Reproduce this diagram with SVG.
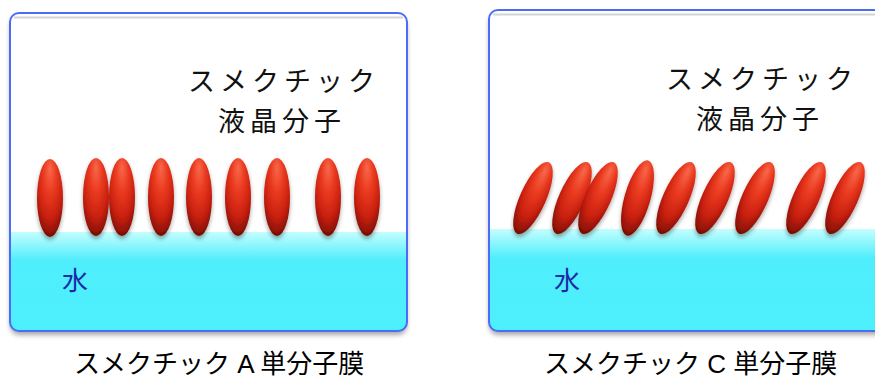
<svg xmlns="http://www.w3.org/2000/svg" width="875" height="378" viewBox="0 0 875 378">
  <defs>
    <linearGradient id="water" x1="0" y1="0" x2="0" y2="1">
      <stop offset="0" stop-color="#c4feff"/>
      <stop offset="0.28" stop-color="#50eefc"/>
      <stop offset="1" stop-color="#4cf0fd"/>
    </linearGradient>
    <radialGradient id="mol" cx="0.5" cy="0.32" r="0.72" fx="0.5" fy="0.12">
      <stop offset="0" stop-color="#f8684a"/>
      <stop offset="0.35" stop-color="#ea3a20"/>
      <stop offset="0.7" stop-color="#c8200f"/>
      <stop offset="0.9" stop-color="#8e1206"/>
      <stop offset="1" stop-color="#5a0a03"/>
    </radialGradient>
    <filter id="molShadow" x="-50%" y="-20%" width="200%" height="150%">
      <feGaussianBlur in="SourceAlpha" stdDeviation="2"/>
      <feOffset dx="0" dy="3" result="b"/>
      <feComponentTransfer><feFuncA type="linear" slope="0.35"/></feComponentTransfer>
      <feMerge><feMergeNode/><feMergeNode in="SourceGraphic"/></feMerge>
    </filter>
    <filter id="boxShadow" x="-5%" y="-5%" width="110%" height="115%">
      <feGaussianBlur in="SourceAlpha" stdDeviation="2.5"/>
      <feOffset dx="0" dy="4"/>
      <feComponentTransfer><feFuncA type="linear" slope="0.35"/></feComponentTransfer>
    </filter>
    <clipPath id="clipA"><rect x="10" y="13" width="397" height="318" rx="9"/></clipPath>
    <clipPath id="clipC"><rect x="489" y="10" width="400" height="321" rx="9"/></clipPath>
    <ellipse id="m" cx="0" cy="0" rx="13" ry="39" fill="url(#mol)"/>
  </defs>
  <style>
    .frame { fill: none; stroke: #4a6cf6; stroke-width: 2; }
    .bevel { fill: none; stroke: #d4d4d4; stroke-width: 2; }
    .lbl { font-family: "Noto Sans CJK JP", "Liberation Sans", sans-serif; fill: #111; }
    .big { font-size: 27px; letter-spacing: 5px; }
    .water { font-family: "Noto Sans CJK JP", sans-serif; font-size: 26px; fill: #1a2aa8; }
    .cap { font-family: "Liberation Sans", "Noto Sans CJK JP", sans-serif; font-size: 26px; fill: #000; }
  </style>

  <!-- Smectic A panel -->
  <g id="panelA">
    <rect x="10" y="13" width="397" height="318" rx="9" fill="#000" filter="url(#boxShadow)"/>
    <rect x="10" y="13" width="397" height="318" rx="9" fill="#fff"/>
    <rect x="10" y="232" width="397" height="100" fill="url(#water)" clip-path="url(#clipA)"/>
    <path class="bevel" d="M14 17.5 H403"/>
    <rect class="frame" x="10" y="13" width="397" height="318" rx="9"/>
    <g id="moleculesA" filter="url(#molShadow)">
      <use href="#m" x="50" y="198"/>
      <use href="#m" x="96" y="197"/>
      <use href="#m" x="122" y="197"/>
      <use href="#m" x="161" y="197"/>
      <use href="#m" x="199" y="197"/>
      <use href="#m" x="238" y="197"/>
      <use href="#m" x="277" y="197"/>
      <use href="#m" x="328" y="197"/>
      <use href="#m" x="367" y="197"/>
    </g>
    <text class="lbl big" x="188" y="91">スメクチック</text>
    <text class="lbl big" x="218" y="131">液晶分子</text>
    <text class="water" x="62" y="290">水</text>
  </g>
  <text id="captionA" class="cap" x="74" y="373">スメクチック A 単分子膜</text>

  <!-- Smectic C panel -->
  <g id="panelC">
    <rect x="489" y="10" width="400" height="321" rx="9" fill="#000" filter="url(#boxShadow)"/>
    <rect x="489" y="10" width="400" height="321" rx="9" fill="#fff"/>
    <rect x="489" y="229" width="400" height="103" fill="url(#water)" clip-path="url(#clipC)"/>
    <path class="bevel" d="M493 14.5 H880"/>
    <rect class="frame" x="489" y="10" width="400" height="321" rx="9"/>
    <g id="moleculesC" filter="url(#molShadow)">
      <use href="#m" transform="translate(533 198) rotate(24)"/>
      <use href="#m" transform="translate(572 198) rotate(24)"/>
      <use href="#m" transform="translate(598 198) rotate(24)"/>
      <use href="#m" transform="translate(637.5 198) rotate(16)"/>
      <use href="#m" transform="translate(676 198) rotate(24)"/>
      <use href="#m" transform="translate(715 198) rotate(24)"/>
      <use href="#m" transform="translate(755 198) rotate(24)"/>
      <use href="#m" transform="translate(806 198) rotate(24)"/>
      <use href="#m" transform="translate(845 198) rotate(24)"/>
    </g>
    <text class="lbl big" x="666" y="89">スメクチック</text>
    <text class="lbl big" x="696" y="129">液晶分子</text>
    <text class="water" x="554" y="290">水</text>
  </g>
  <text id="captionC" class="cap" x="544" y="373">スメクチック C 単分子膜</text>
</svg>
